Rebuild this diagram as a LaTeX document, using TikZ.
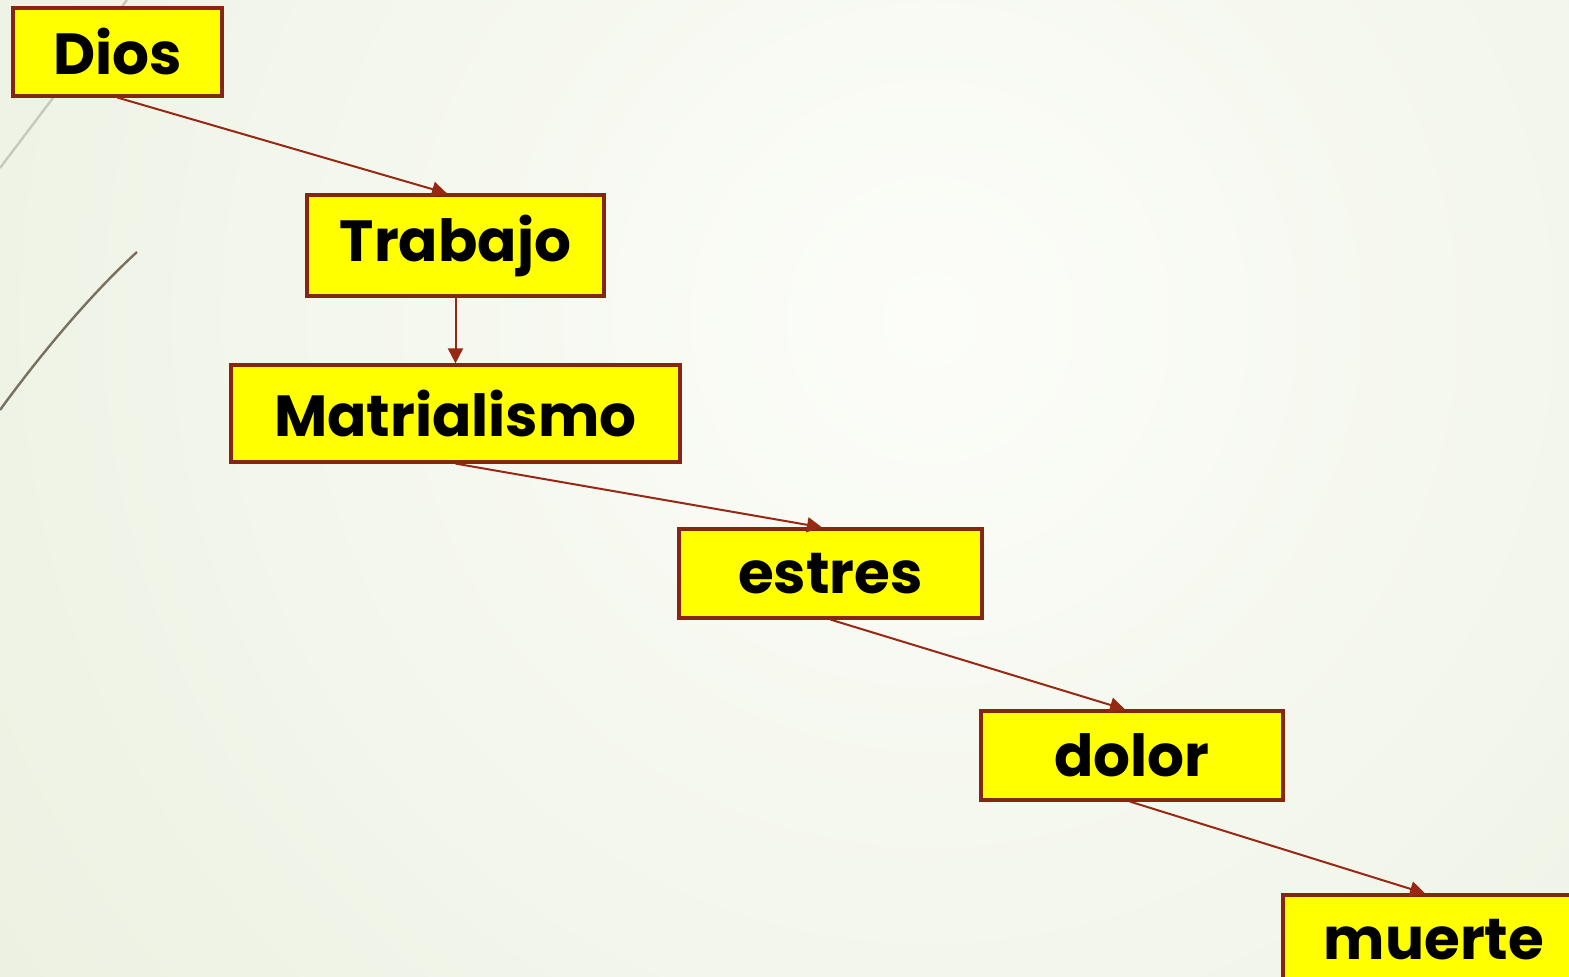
\documentclass[tikz,border=0pt]{standalone}
\usepackage{fontspec}
\setmainfont{Poppins}
\usetikzlibrary{arrows.meta,calc}
\definecolor{bord}{RGB}{135,38,15}
\definecolor{arrc}{RGB}{150,40,20}
\definecolor{boxy}{RGB}{255,255,0}
\definecolor{bgin}{RGB}{252,253,249}
\definecolor{bgout}{RGB}{220,229,202}
\definecolor{deco1}{RGB}{200,200,190}
\definecolor{deco2}{RGB}{120,112,96}
\tikzset{
  box/.style={draw=bord, line width=1.6pt, fill=boxy, inner sep=0pt,
    font=\fontsize{29}{31}\selectfont\bfseries, text=black},
  arr/.style={draw=arrc, line width=1pt, -{Triangle[length=7.5pt,width=7.5pt]}}
}
\begin{document}
\begin{tikzpicture}[x=0.5pt,y=-0.5pt]
\path[use as bounding box] (0,0) rectangle (1569,977);
\clip (0,0) rectangle (1569,977);
\shade[inner color=bgin, outer color=bgout] (930,320) circle (2300);
\draw[deco1, line width=1.2pt] (0,168) -- (127,0);
\draw[deco2, line width=1.2pt] (0,410) .. controls (40,355) and (90,295) .. (137,252);
\node[box, minimum width=104.5pt, minimum height=44pt] (dios) at (117.5,52) {Dios};
\node[box, minimum width=148.5pt, minimum height=50.5pt] (trabajo) at (455.5,245.5) {Trabajo};
\node[box, minimum width=224.5pt, minimum height=48.5pt] (mat) at (455.5,413.5) {Matrialismo};
\node[box, minimum width=151.5pt, minimum height=44.5pt] (estres) at (830.5,573.5) {estres};
\node[box, minimum width=151pt, minimum height=44.5pt] (dolor) at (1132,755.5) {dolor};
\node[box, minimum width=151pt, minimum height=45pt] (muerte) at (1434,940) {muerte};
\draw[arr] (dios.south) -- ([xshift=-4.25pt]trabajo.north);
\draw[arr] (trabajo.south) -- (mat.north);
\draw[arr] (mat.south) -- ([xshift=-4.25pt]estres.north);
\draw[arr] (estres.south) -- ([xshift=-3.5pt]dolor.north);
\draw[arr] ([xshift=-1pt]dolor.south) -- ([xshift=-4.5pt]muerte.north);
\end{tikzpicture}
\end{document}
